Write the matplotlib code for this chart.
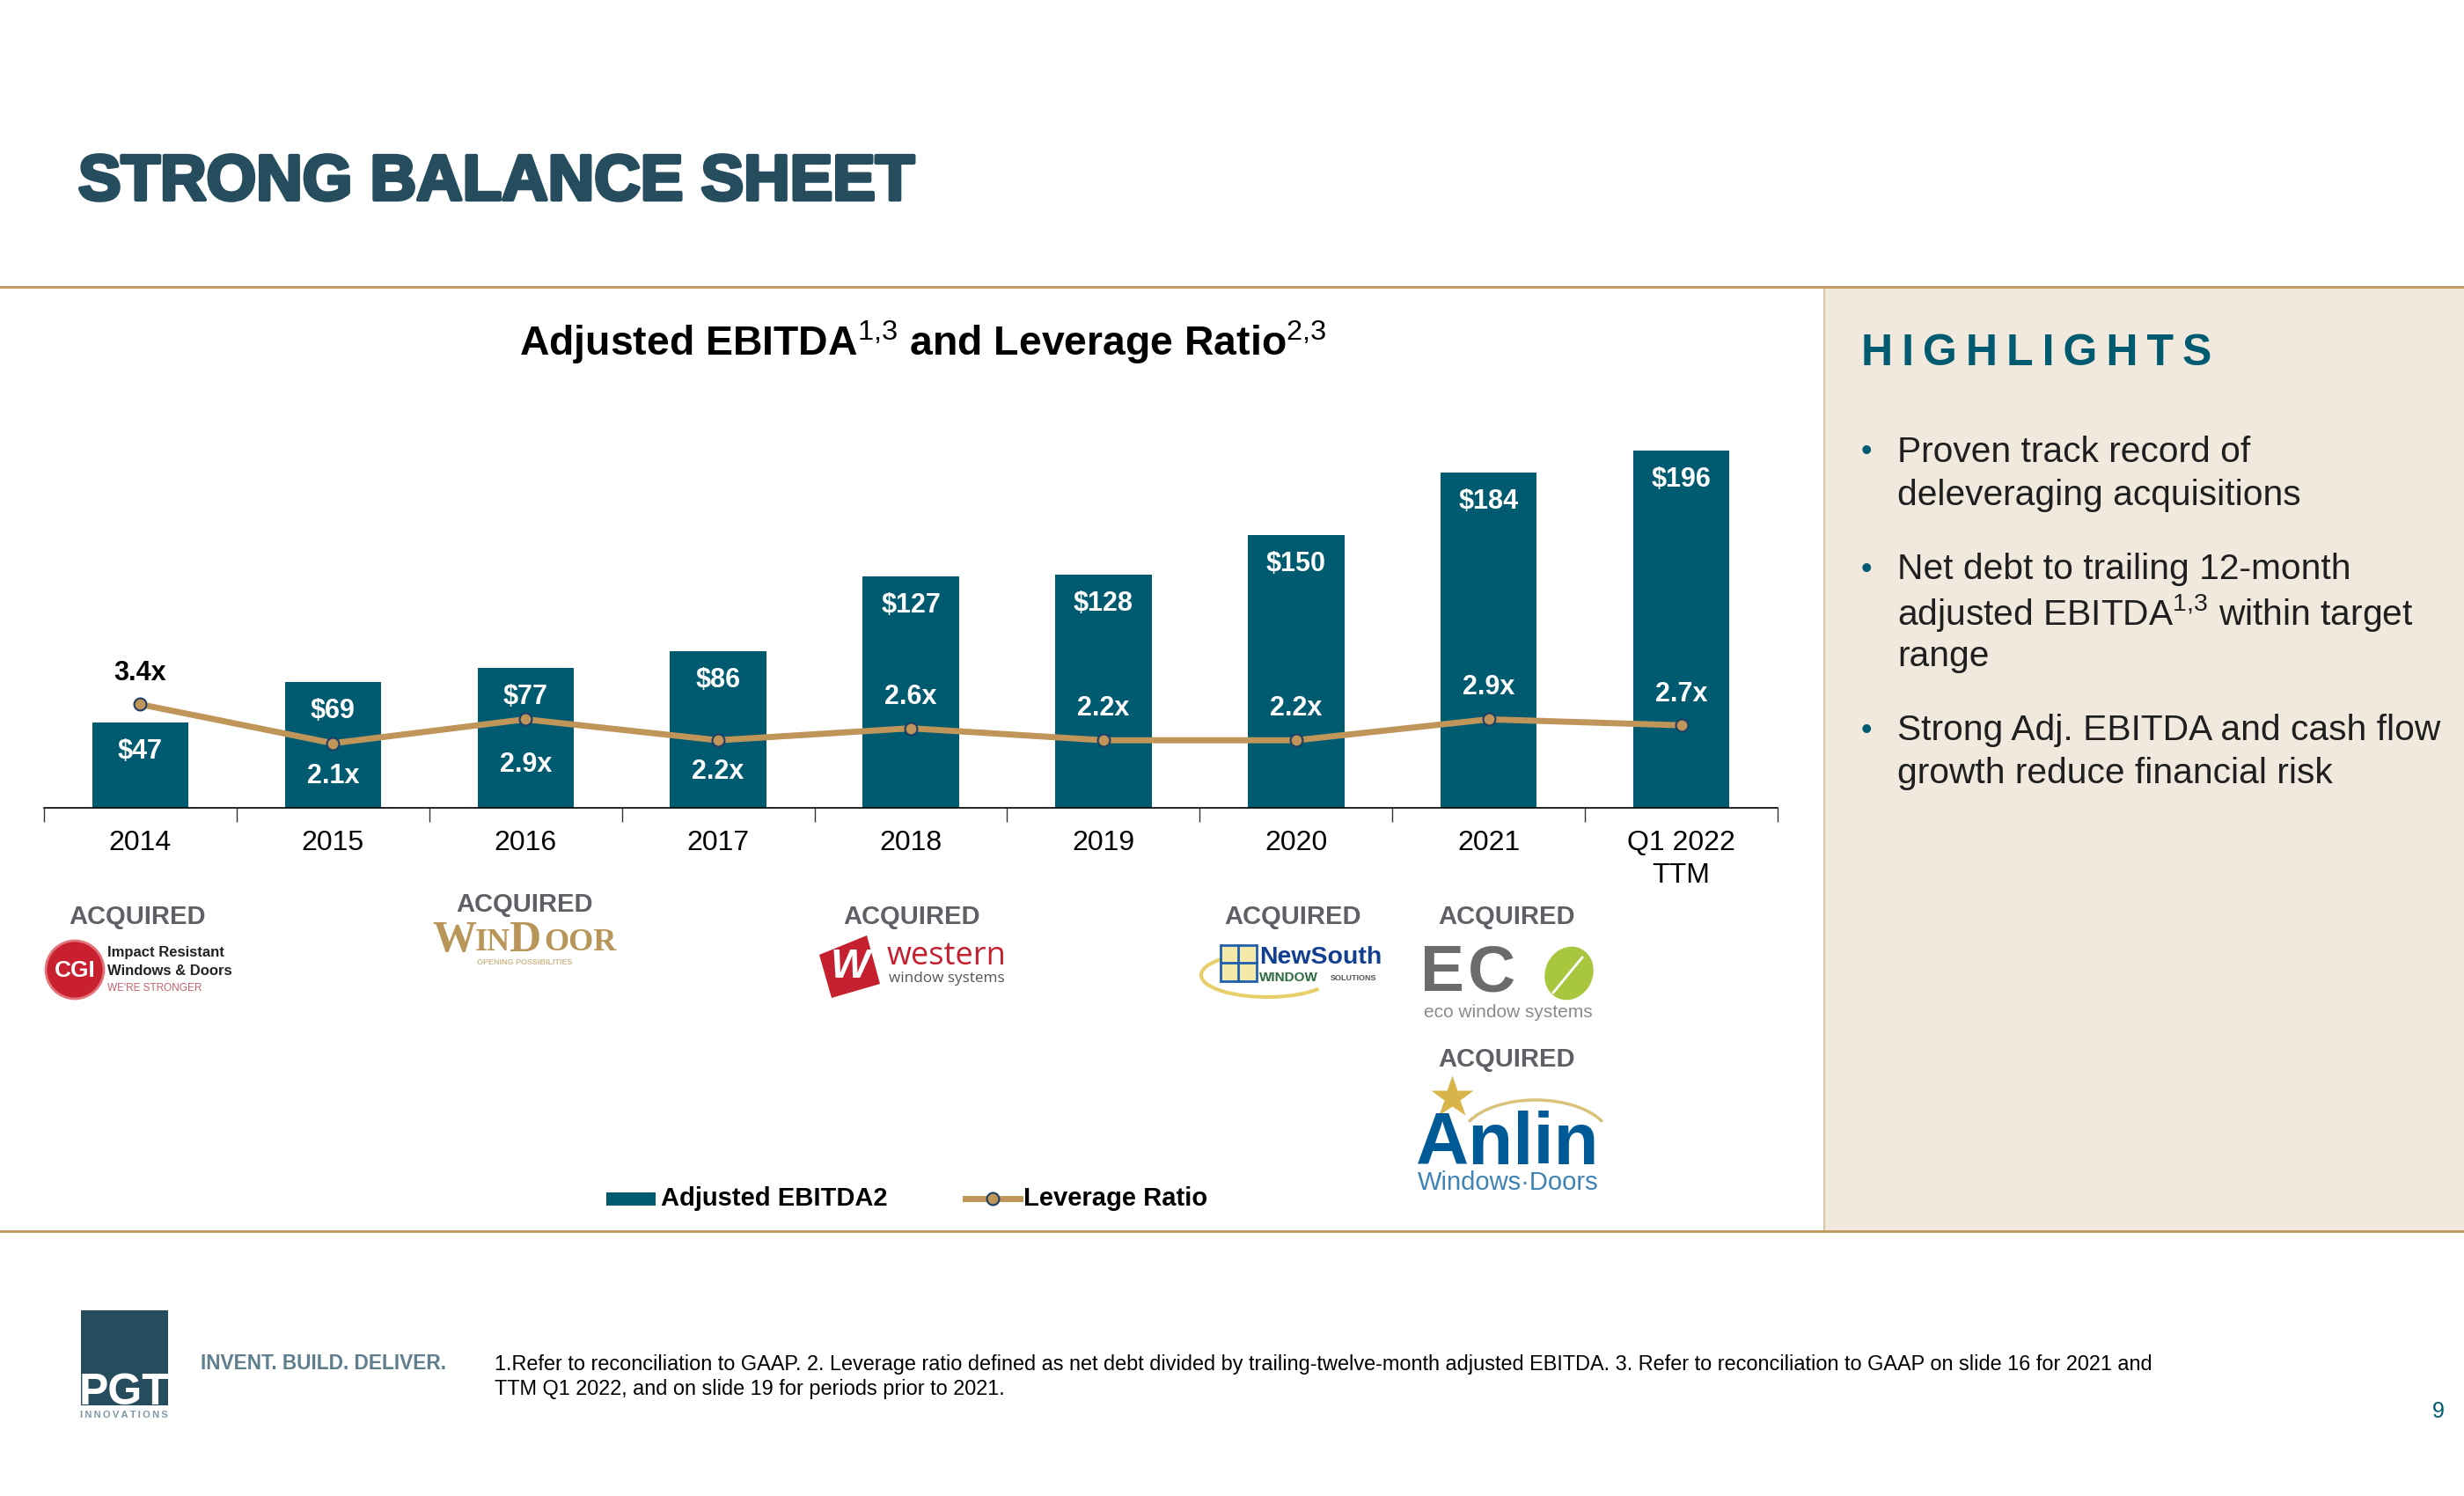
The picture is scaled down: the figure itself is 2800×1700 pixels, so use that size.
#!/usr/bin/env python3
"""PGT slide: adjusted EBITDA bars with the leverage ratio line on top."""

import matplotlib
matplotlib.use("Agg")
import matplotlib.pyplot as plt
import matplotlib.patheffects as pe
from matplotlib.patches import Arc, Circle, Ellipse, Polygon, Rectangle

plt.rcParams['font.family'] = ['Liberation Sans', 'DejaVu Sans']
plt.rcParams['mathtext.fontset'] = 'custom'
plt.rcParams['mathtext.rm'] = 'Liberation Sans'
plt.rcParams['mathtext.bf'] = 'Liberation Sans:bold'

# data
PERIODS = ['2014', '2015', '2016', '2017', '2018', '2019', '2020', '2021', 'Q1 2022\nTTM']
EBITDA = [47, 69, 77, 86, 127, 128, 150, 184, 196]
LEVERAGE = [3.4, 2.1, 2.9, 2.2, 2.6, 2.2, 2.2, 2.9, 2.7]

# where each leverage label sits relative to its point, in pixels (+ is up)
LEVERAGE_LABEL_OFFSET = [35, -37, -52, -36, 36, 36, 36, 36, 35]

BULLETS = [
    ['Proven track record of', 'deleveraging acquisitions'],
    ['Net debt to trailing 12-month',
     r'adjusted EBITDA$^{\mathrm{1{,}3}}$ within target', 'range'],
    ['Strong Adj. EBITDA and cash flow', 'growth reduce financial risk'],
]
FOOTNOTE = [
    '1.Refer to reconciliation to GAAP. 2. Leverage ratio defined as net debt divided by '
    'trailing-twelve-month adjusted EBITDA. 3. Refer to reconciliation to GAAP on slide 16 for 2021 and',
    'TTM Q1 2022, and on slide 19 for periods prior to 2021.',
]

# colours
TEAL = '#005a70'
DARK = '#264d5e'
TAN = '#c0955a'
NAVY = '#1c3f66'
PANEL = '#f1e9de'
GREY = '#5e6066'

W, H = 2800, 1700
PX = 0.72  # points per pixel at dpi=100

fig = plt.figure(figsize=(W / 100, H / 100), dpi=100, facecolor='white')

# page layer, coordinates are reference pixels
page = fig.add_axes([0, 0, 1, 1])
page.set_xlim(0, W)
page.set_ylim(H, 0)
page.axis('off')

page.add_patch(Rectangle((2073, 326), W - 2073, 1073, fc=PANEL, ec='none'))
page.plot([2073, 2073], [326, 1399], color='#d9c7a8', lw=1.5)
page.plot([0, W], [326, 326], color=TAN, lw=2)
page.plot([0, W], [1399, 1399], color=TAN, lw=2)

page.text(89, 208, 'STRONG BALANCE SHEET', fontsize=52.4, weight='bold', color=DARK,
          va='center', path_effects=[pe.withStroke(linewidth=3, foreground=DARK)])
page.text(1049, 389, r'Adjusted EBITDA$^{\mathrm{1{,}3}}$ and Leverage Ratio$^{\mathrm{2{,}3}}$',
          fontsize=33.4, weight='bold', color='black', ha='center', va='center')

# ----- chart -----
AX_LEFT, AX_RIGHT, AX_BOTTOM, AX_TOP = 50, 2020, 918, 470
ax = fig.add_axes([AX_LEFT / W, 1 - AX_BOTTOM / H,
                   (AX_RIGHT - AX_LEFT) / W, (AX_BOTTOM - AX_TOP) / H])
ax.patch.set_alpha(0)
positions = list(range(len(PERIODS)))
ax.bar(positions, EBITDA, width=0.5, color=TEAL)
ax.set_xlim(-0.5, len(PERIODS) - 0.5)
ax.set_ylim(0, (AX_BOTTOM - AX_TOP) / 2.07)
ax.set_yticks([])
for side in ['top', 'left', 'right']:
    ax.spines[side].set_visible(False)
ax.spines['bottom'].set_linewidth(1.2)
ax.set_xticks([p - 0.5 for p in positions] + [len(PERIODS) - 0.5])
ax.set_xticklabels([])
ax.tick_params(axis='x', which='major', length=16 * PX, width=1.0, color='#333333')
ax.set_xticks(positions, minor=True)
ax.set_xticklabels(PERIODS, minor=True, fontsize=23, color='black', linespacing=1.3)
ax.tick_params(axis='x', which='minor', length=0, pad=25 * PX)

for x, v in zip(positions, EBITDA):
    ax.annotate(f'${v}', (x, v), xytext=(0, -33 * PX), textcoords='offset points',
                ha='center', va='center', color='white', fontsize=22, weight='bold')

line_ax = ax.twinx()
line_ax.patch.set_alpha(0)
line_ax.set_ylim(-2 / 34, (AX_BOTTOM - AX_TOP - 2) / 34)
line_ax.set_yticks([])
for side in ['top', 'left', 'right', 'bottom']:
    line_ax.spines[side].set_visible(False)
line_ax.plot(positions, LEVERAGE, color=TAN, lw=5, marker='o', ms=10,
             mfc=TAN, mec=NAVY, mew=1.5, solid_joinstyle='round')
for i, (x, v) in enumerate(zip(positions, LEVERAGE)):
    line_ax.annotate(f'{v:.1f}x', (x, v), xytext=(0, LEVERAGE_LABEL_OFFSET[i] * PX),
                     textcoords='offset points', ha='center', va='center',
                     color='black' if i == 0 else 'white', fontsize=22, weight='bold')

# legend, laid out by hand like the slide
page.add_patch(Rectangle((689, 1355), 56, 15, fc=TEAL, ec='none'))
page.text(751, 1362, 'Adjusted EBITDA2', fontsize=21, weight='bold', va='center')
page.plot([1097, 1159], [1362, 1362], color=TAN, lw=5, marker='none')
page.plot([1128], [1362], marker='o', ms=10, mfc=TAN, mec=NAVY, mew=1.5)
page.text(1163, 1362, 'Leverage Ratio', fontsize=21, weight='bold', va='center')

# ----- acquired captions and logos -----
for x, y in [(156, 1042), (596, 1028), (1036, 1042), (1469, 1042), (1712, 1042), (1712, 1204)]:
    page.text(x, y, 'ACQUIRED', fontsize=21, weight='bold', color=GREY, ha='center', va='center')

# CGI
page.add_patch(Circle((85, 1102), 33, fc='#c8202f', ec='#e3747b', lw=2))
page.text(85, 1103, 'CGI', fontsize=19, weight='bold', color='white', ha='center', va='center')
page.text(122, 1083, 'Impact Resistant', fontsize=12, weight='bold', color='#222222', va='center')
page.text(122, 1103, 'Windows & Doors', fontsize=12, weight='bold', color='#222222', va='center')
page.text(122, 1123, "WE'RE STRONGER", fontsize=8.5, color='#c4606a', va='center')

# WinDoor
page.text(491, 1069, 'W', fontsize=36, family='Liberation Serif', weight='bold', color='#b8965a', va='center')
page.text(540, 1071, 'IN', fontsize=26, family='Liberation Serif', weight='bold', color='#b8965a', va='center')
page.text(578, 1069, 'D', fontsize=36, family='Liberation Serif', weight='bold', color='#b8965a', va='center')
page.text(618, 1071, 'OOR', fontsize=26, family='Liberation Serif', weight='bold', color='#b8965a', va='center')
page.text(596, 1094, 'OPENING POSSIBILITIES', fontsize=6.5, weight='bold', color='#cdb98f', ha='center', va='center')

# western
page.add_patch(Polygon([(931, 1085), (985, 1063), (1000, 1118), (945, 1134)], fc='#c4202f', ec='none'))
page.text(966, 1099, 'W', fontsize=34, weight='bold', style='italic', color='white', ha='center', va='center')
page.text(1008, 1087, 'western', fontsize=26, family='Open Sans', color='#c4202f', va='center')
page.text(1010, 1112, 'window systems', fontsize=12.3, family='Open Sans', color='#555555', va='center')

# NewSouth
page.add_patch(Arc((1440, 1108), 150, 50, theta1=15, theta2=200, ec='#e8cf6a', lw=3))
page.add_patch(Rectangle((1387, 1074), 41, 41, fc='#f4e9a8', ec='#1f5fae', lw=2))
page.plot([1407, 1407], [1074, 1115], color='#1f5fae', lw=2)
page.plot([1387, 1428], [1094, 1094], color='#1f5fae', lw=2)
page.text(1431, 1088, 'NewSouth', fontsize=20.5, weight='bold', color='#123f90', va='center')
page.text(1431, 1111, 'WINDOW', fontsize=11, weight='bold', color='#2b6b3f', va='center')
page.text(1512, 1111, 'SOLUTIONS', fontsize=6.5, weight='bold', color='#555555', va='center')

# eco
page.text(1614, 1107, 'E', fontsize=54, weight='bold', color='#6b6b6d', va='center')
page.text(1668, 1107, 'C', fontsize=54, weight='bold', color='#6b6b6d', va='center')
page.add_patch(Ellipse((1783, 1106), 54, 62, angle=25, fc='#a9c63f', ec='none'))
page.plot([1765, 1798], [1128, 1088], color='white', lw=2)
page.text(1714, 1151, 'eco window systems', fontsize=15, color='#8a8a8a', ha='center', va='center')

# Anlin
page.plot([1650], [1247], marker='*', ms=36, mfc='#d9b44a', mec='none')
page.add_patch(Arc((1745, 1295), 170, 90, theta1=195, theta2=345, ec='#d9c27a', lw=2.5))
page.text(1713, 1301, 'Anlin', fontsize=60, weight='bold', color='#005a96', ha='center', va='center')
page.text(1714, 1344, 'Windows·Doors', fontsize=21, color='#3f83b5', ha='center', va='center')

# ----- highlights panel -----
page.text(2115, 402, '\u2009'.join('HIGHLIGHTS'), fontsize=36, weight='bold',
          color=TEAL, va='center')
y_positions = [514, 563, 647, 696, 746, 830, 879]
idx = 0
for bullet in BULLETS:
    page.text(2115, y_positions[idx], '•', fontsize=26, color=TEAL, va='center')
    for line in bullet:
        page.text(2156, y_positions[idx], line, fontsize=29.3, color='#1f1f1f', va='center')
        idx += 1

# ----- footer -----
page.add_patch(Rectangle((92, 1489), 99, 108, fc=DARK, ec='none'))
page.text(141, 1583, 'PGT', fontsize=36, weight='bold', color='white', ha='center', va='center')
page.text(141, 1608, '\u2009'.join('INNOVATIONS'), fontsize=8, weight='bold', color='#7f97a3',
          ha='center', va='center')
page.text(228, 1550, 'INVENT. BUILD. DELIVER.', fontsize=16.3, weight='bold', color='#5f7f8e', va='center')
page.text(562, 1550, FOOTNOTE[0], fontsize=16.9, color='black', va='center')
page.text(562, 1578, FOOTNOTE[1], fontsize=16.9, color='black', va='center')
page.text(2771, 1604, '9', fontsize=18, color=TEAL, ha='center', va='center')

fig.savefig('out.png', dpi=100)
